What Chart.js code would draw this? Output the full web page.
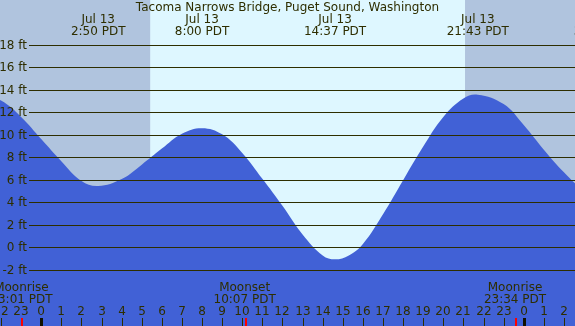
<!DOCTYPE html>
<html>
<head>
<meta charset="utf-8">
<script src="https://cdn.jsdelivr.net/npm/chart.js@4.4.1/dist/chart.umd.min.js"></script>
<style>
  html, body { margin: 0; padding: 0; background: #B0C4DE; }
  #wrap { position: relative; width: 575px; height: 326px; }
</style>
</head>
<body>
<div id="wrap"><canvas id="c"></canvas></div>
<script>
// ---- Data (hours relative to Jul 13 00:00 PDT; heights in ft) ----
const hours   = [-4, -3, -2, -1, 0, 1, 2, 2.833, 4, 5, 6, 7, 8, 9, 10, 11, 12, 13, 14, 14.617, 15.3, 16, 17, 18, 19, 20, 21, 21.717, 23, 24, 25, 26, 27, 27.85, 29];
const heights = [13.8, 13.65, 13.05, 11.6, 9.63, 7.66, 5.9, 5.45, 6.07, 7.35, 8.78, 10.1, 10.6, 10.05, 8.4, 6.1, 3.7, 1.15, -0.72, -1.07, -0.72, 0.3, 2.94, 5.97, 8.97, 11.6, 13.24, 13.58, 12.74, 10.87, 8.68, 6.68, 5.1, 4.7, 5.2];

const yTicks = [-2, 0, 2, 4, 6, 8, 10, 12, 14, 16, 18];
const yTickLabels = ['-2 ft', '0 ft', '2 ft', '4 ft', '6 ft', '8 ft', '10 ft', '12 ft', '14 ft', '16 ft', '18 ft'];

const hourTicks = [-2, -1, 0, 1, 2, 3, 4, 5, 6, 7, 8, 9, 10, 11, 12, 13, 14, 15, 16, 17, 18, 19, 20, 21, 22, 23, 24, 25, 26];
const hourLabels = ['22', '23', '0', '1', '2', '3', '4', '5', '6', '7', '8', '9', '10', '11', '12', '13', '14', '15', '16', '17', '18', '19', '20', '21', '22', '23', '0', '1', '2'];
const midnights = [0, 24];

const tideTimes = [2.833, 8.0, 14.617, 21.717, 27.85];
const tideDates = ['Jul 13', 'Jul 13', 'Jul 13', 'Jul 13', 'Jul 14'];
const tideClock = ['2:50 PDT', '8:00 PDT', '14:37 PDT', '21:43 PDT', '3:51 PDT'];

const moonTimes  = [-0.983, 10.117, 23.567];
const moonEvents = ['Moonrise', 'Moonset', 'Moonrise'];
const moonClock  = ['23:01 PDT', '10:07 PDT', '23:34 PDT'];

const sunriseHour = 5.42;
const sunsetHour  = 21.08;

const titleText = 'Tacoma Narrows Bridge, Puget Sound, Washington';

const viewStart = -2.05;
const viewEnd   = 26.55;
const viewMin   = -7;
const viewMax   = 22;

// ---- Styles ----
const NIGHT = '#B0C4DE';
const DAY   = '#DEF7FF';
const WATER = '#4161D6';
const INK   = '#2E2E00';
const FONT  = '"DejaVu Sans", sans-serif';

const decor = {
  id: 'decor',
  beforeDraw(chart) {
    const { ctx, scales: { x } } = chart;
    ctx.save();
    ctx.fillStyle = NIGHT;
    ctx.fillRect(0, 0, chart.width, chart.height);
    const x0 = x.getPixelForValue(sunriseHour);
    const x1 = x.getPixelForValue(sunsetHour);
    ctx.fillStyle = DAY;
    ctx.fillRect(x0, 0, x1 - x0, chart.height);
    ctx.restore();
  },
  afterDatasetsDraw(chart) {
    const { ctx, scales: { x, y } } = chart;
    const W = chart.width, H = chart.height;
    ctx.save();
    ctx.strokeStyle = INK;
    ctx.lineWidth = 1;
    ctx.fillStyle = INK;
    ctx.font = '12px ' + FONT;
    ctx.textAlign = 'right';
    ctx.textBaseline = 'middle';
    yTicks.forEach((v, i) => {
      const py = Math.round(y.getPixelForValue(v)) + 0.5;
      ctx.beginPath();
      ctx.moveTo(29, py);
      ctx.lineTo(W, py);
      ctx.stroke();
      ctx.fillText(yTickLabels[i], 27, py);
    });
    ctx.textAlign = 'center';
    ctx.fillText(titleText, W / 2, 8);
    tideTimes.forEach((t, i) => {
      const px = x.getPixelForValue(t);
      ctx.fillText(tideDates[i], px, 19.5);
      ctx.fillText(tideClock[i], px, 31.5);
    });
    moonTimes.forEach((t, i) => {
      const px = x.getPixelForValue(t);
      ctx.fillText(moonEvents[i], px, 287.5);
      ctx.fillText(moonClock[i], px, 299.5);
    });
    hourTicks.forEach((h, i) => {
      const px = Math.round(x.getPixelForValue(h));
      ctx.fillText(hourLabels[i], px, 311.5);
      ctx.fillRect(px, 318, 1, H - 318);
    });
    ctx.fillStyle = '#111100';
    midnights.forEach(h => {
      const px = Math.round(x.getPixelForValue(h));
      ctx.fillRect(px - 1, 318, 3, H - 318);
    });
    ctx.fillStyle = '#FF0000';
    moonTimes.forEach(t => {
      const px = Math.round(x.getPixelForValue(t));
      ctx.fillRect(px, 318, 2, H - 318);
    });
    ctx.restore();
  }
};

new Chart(document.getElementById('c'), {
  type: 'line',
  data: {
    datasets: [{
      data: hours.map((h, i) => ({ x: h, y: heights[i] })),
      borderWidth: 0,
      borderColor: WATER,
      backgroundColor: WATER,
      pointRadius: 0,
      fill: 'start',
      tension: 0.4
    }]
  },
  options: {
    responsive: true,
    maintainAspectRatio: false,
    animation: false,
    layout: { padding: 0 },
    plugins: { legend: { display: false }, tooltip: { enabled: false }, title: { display: false } },
    scales: {
      x: { type: 'linear', min: viewStart, max: viewEnd, display: false },
      y: { type: 'linear', min: viewMin, max: viewMax, display: false }
    }
  },
  plugins: [decor]
});
</script>
</body>
</html>
